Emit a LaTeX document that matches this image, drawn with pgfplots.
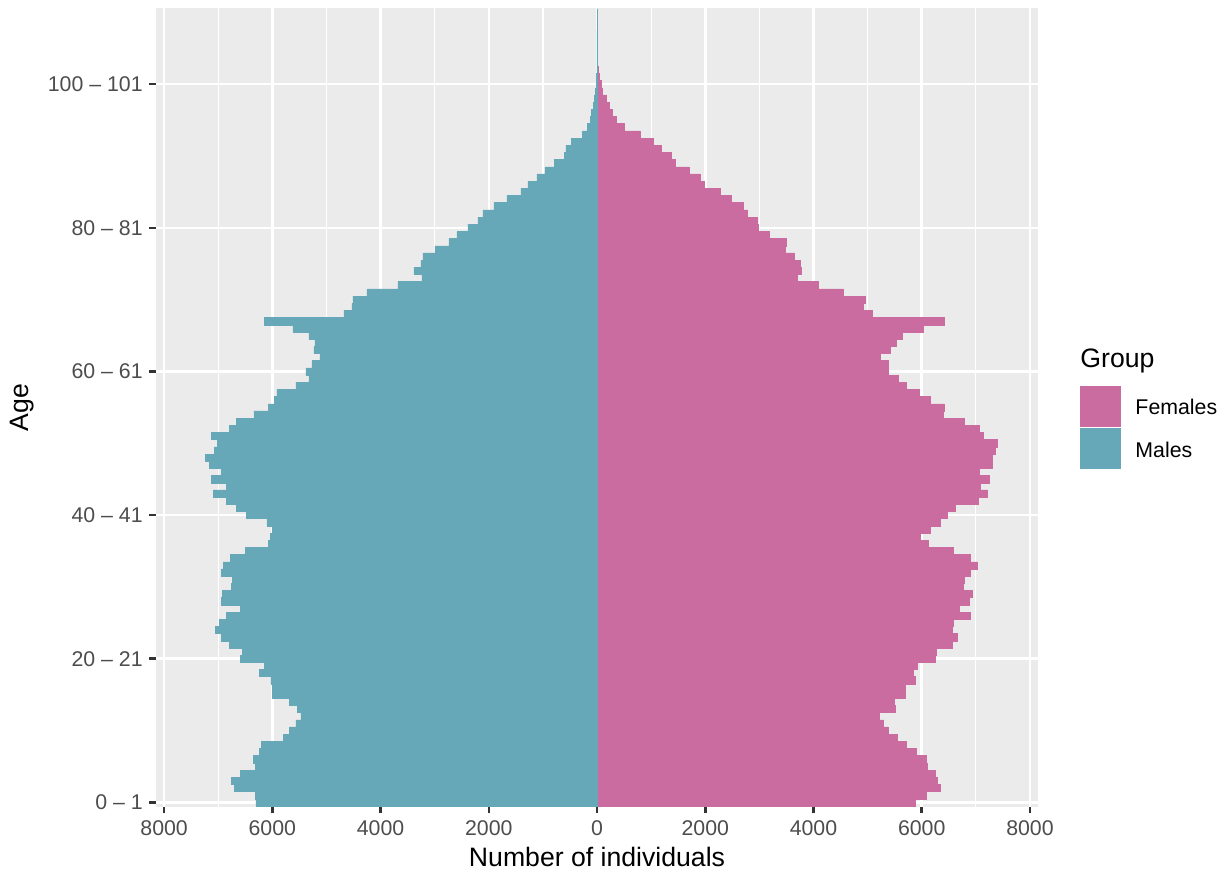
\documentclass[border=0pt]{standalone}
\usepackage{pgfplots}
\usepackage{pgfplotstable}
\pgfplotsset{compat=1.18}
\usepackage{fontspec}
\setmainfont{Liberation Sans}
\definecolor{fem}{RGB}{202,108,159}
\definecolor{mal}{RGB}{102,168,183}
\definecolor{ggbg}{RGB}{235,235,235}
\definecolor{gg30}{RGB}{77,77,77}
\definecolor{gg20}{RGB}{51,51,51}

\pgfplotstableread{
age males females
0 -6302 5884
1 -6320 6088
2 -6708 6347
3 -6763 6291
4 -6597 6254
5 -6320 6106
6 -6357 6088
7 -6246 5903
8 -6209 5718
9 -5803 5539
10 -5692 5385
11 -5563 5292
12 -5471 5206
13 -5532 5502
14 -5692 5483
15 -6006 5699
16 -5994 5699
17 -6025 5884
18 -6246 5847
19 -6154 5921
20 -6597 6254
21 -6560 6273
22 -6800 6569
23 -6948 6661
24 -7059 6569
25 -6985 6587
26 -6856 6902
27 -6597 6698
28 -6948 6883
29 -6929 6939
30 -6763 6772
31 -6745 6791
32 -6948 6902
33 -6911 7032
34 -6782 6902
35 -6505 6587
36 -6080 6125
37 -6043 5977
38 -6006 6162
39 -6099 6347
40 -6486 6476
41 -6671 6624
42 -6856 7050
43 -7096 7217
44 -6856 7087
45 -7132 7254
46 -6948 7069
47 -7169 7309
48 -7243 7309
49 -7077 7365
50 -7022 7402
51 -7132 7143
52 -6800 7069
53 -6671 6791
54 -6339 6402
55 -6080 6421
56 -5969 6162
57 -5914 5958
58 -5563 5718
59 -5323 5570
60 -5379 5385
61 -5268 5385
62 -5120 5237
63 -5231 5422
64 -5212 5533
65 -5323 5644
66 -5619 6032
67 -6154 6421
68 -4677 5089
69 -4529 4922
70 -4511 4959
71 -4252 4552
72 -3680 4089
73 -3237 3701
74 -3385 3775
75 -3255 3756
76 -3219 3645
77 -2997 3479
78 -2739 3497
79 -2591 3183
80 -2388 2979
81 -2203 2961
82 -2111 2776
83 -1908 2702
84 -1668 2480
85 -1409 2276
86 -1280 1980
87 -1114 1906
88 -966 1702
89 -782 1443
90 -597 1369
91 -578 1184
92 -468 1036
93 -265 796
94 -172 506
95 -117 358
96 -98 284
97 -62 228
98 -43 179
99 -25 99
100 -12 80
101 -8 43
102 -5 25
103 -4 12
104 -3 8
105 -2 6
106 -1 5
107 -1 4
108 0 3
109 0 2
110 0 2
}\pyr

\begin{document}
\begin{tikzpicture}[x=0.41143bp,y=0.41143bp]
\useasboundingbox (0bp,0bp) rectangle (504.41bp,358.36bp);
\begin{axis}[
  at={(64.18bp,26.455bp)}, anchor=south west,
  scale only axis, width=362.9bp, height=328.6bp,
  xmin=-8150, xmax=8150, ymin=-0.6, ymax=110.6,
  axis background/.style={fill=ggbg},
  axis line style={draw=none},
  xtick={-8000,-6000,...,8000},
  xticklabels={8000,6000,4000,2000,0,2000,4000,6000,8000},
  minor xtick={-7000,-5000,...,7000},
  ytick={0,20,...,100},
  yticklabels={0 – 1,20 – 21,40 – 41,60 – 61,80 – 81,100 – 101},
  xmajorgrids, xminorgrids, ymajorgrids,
  major grid style={white, line width=1.07bp},
  minor grid style={white, line width=0.53bp},
  tick align=outside, xtick pos=left, ytick pos=left,
  major tick length=2.75bp, minor tick length=0pt,
  major tick style={gg20, line width=1.07bp},
  minor tick style={draw=none},
  tick label style={font=\fontsize{8.8}{10}\selectfont, text=gg30},
  yticklabel style={xshift=0.8bp},
  xticklabel style={yshift=0.6bp},
  xlabel={\fontsize{11}{13}\selectfont Number of individuals},
  ylabel={\fontsize{11}{13}\selectfont Age},
  every axis x label/.style={at={(axis description cs:0.5,-0.063)}, anchor=center},
  every axis y label/.style={at={(axis description cs:-0.152,0.5)}, anchor=center, rotate=90},
]
\addplot[xbar, bar width=1, bar shift=0pt, fill=fem, draw=fem, line width=0.2pt] table[x=females, y=age] {\pyr};
\addplot[xbar, bar width=1, bar shift=0pt, fill=mal, draw=mal, line width=0.2pt] table[x=males, y=age] {\pyr};
\end{axis}
\node[anchor=base west, font=\fontsize{11}{13}\selectfont, inner sep=0pt] at (1080, 871-367.5) {Group};
\fill[fem] (1080.5, 871-426.5) rectangle (1121.5, 871-385.5);
\fill[mal] (1080.5, 871-468.5) rectangle (1121.5, 871-427.5);
\node[anchor=base west, font=\fontsize{8.8}{10}\selectfont, inner sep=0pt] at (1135, 871-414.7) {Females};
\node[anchor=base west, font=\fontsize{8.8}{10}\selectfont, inner sep=0pt] at (1135, 871-457.7) {Males};
\end{tikzpicture}
\end{document}
